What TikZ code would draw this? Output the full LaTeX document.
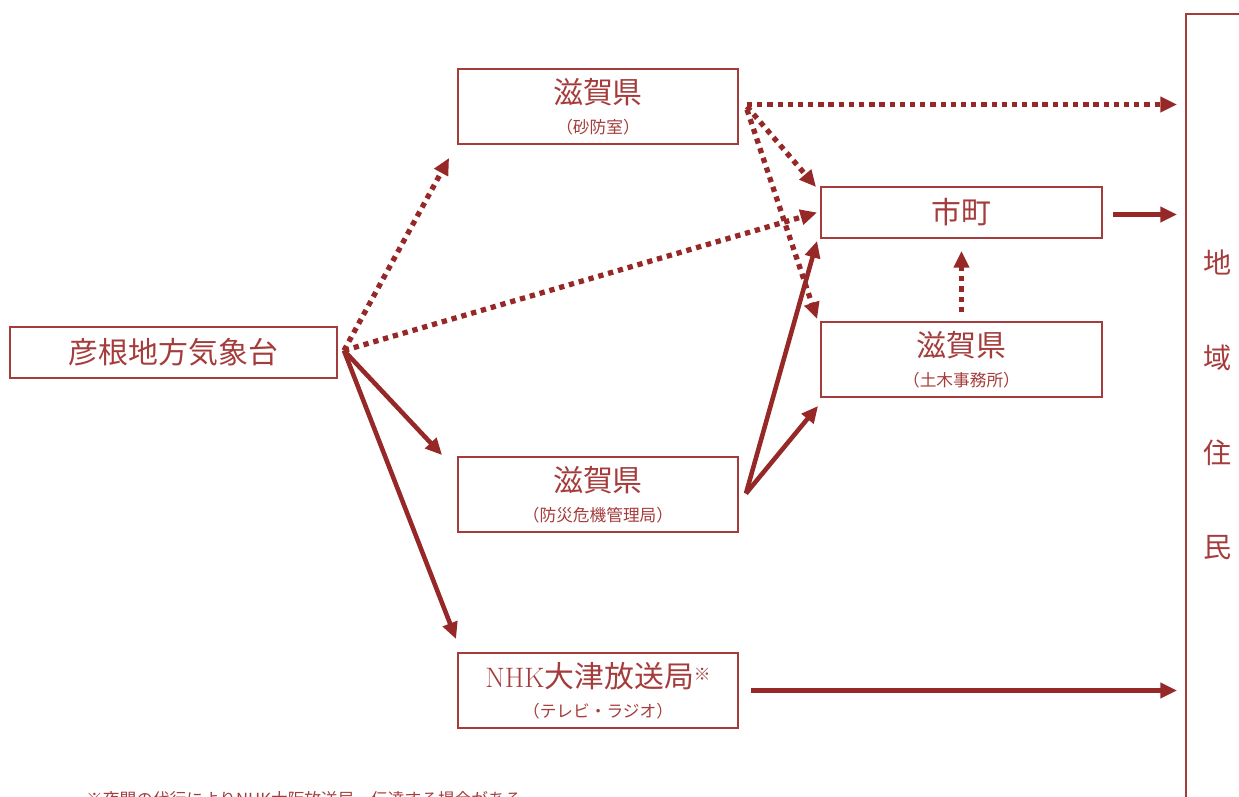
\documentclass[tikz,border=0pt]{standalone}
\usepackage{fontspec}
\newfontfamily\jp{Noto Sans CJK JP}
\usetikzlibrary{arrows.meta, calc}
\definecolor{dred}{RGB}{150,40,40}
\definecolor{bred}{RGB}{165,60,60}
\newcommand{\bigjp}{\fontsize{17pt}{20pt}\selectfont}
\newcommand{\smalljp}{\fontsize{9.5pt}{11pt}\selectfont}

\begin{document}
\begin{tikzpicture}[x=0.02cm, y=-0.02cm]
    \tikzstyle{box} = [draw=bred, line width=1.1pt, shape=rectangle, minimum width=5.6cm, minimum height=1.5cm, inner sep=0pt, align=center, text=bred, font=\jp\fontsize{10pt}{12pt}\selectfont]
    \tikzstyle{flow} = [draw=dred, line width=2.6pt, -{Triangle[length=9.5pt, width=8.5pt]}]
    \tikzstyle{notice} = [flow, line width=3pt, dash pattern=on 3pt off 2.8pt]
    \useasboundingbox (0,0) rectangle (1239,796);
    % boxes
    \node (kisho) [box, minimum width=6.54cm, minimum height=1.02cm] at (173.5, 352.5) {\bigjp 彦根地方気象台};
    \node (sabo) [box] at (598, 106.5) {\bigjp 滋賀県\\[5pt]\smalljp （砂防室）};
    \node (shicho) [box, minimum width=5.62cm, minimum height=1.02cm] at (961.5, 212.5) {\bigjp 市町};
    \node (doboku) [box, minimum width=5.62cm] at (961.5, 359.5) {\bigjp 滋賀県\\[5pt]\smalljp （土木事務所）};
    \node (bousai) [box] at (598, 494.5) {\bigjp 滋賀県\\[5pt]\smalljp （防災危機管理局）};
    \node (nhk) [box] at (598, 690.5) {\bigjp{\rmfamily\fontsize{16pt}{18pt}\selectfont NHK}大津放送局\raisebox{4pt}{\smalljp ※}\\[5pt]\smalljp （テレビ・ラジオ）};
    \node (jumin) [draw=bred, line width=1.1pt, minimum width=1.68cm, minimum height=16.32cm, inner sep=0pt] at (1228, 422) {};
    \node (jumintxt) [align=center, text=bred, font=\jp\fontsize{16pt}{53.9pt}\selectfont] at (1218, 405) {地\\域\\住\\民};
    \node (note) [anchor=west, text=bred, font=\jp\smalljp] at (80, 799) {※夜間の代行によりNHK大阪放送局、伝達する場合がある};
    % from the observatory
    \draw [notice] ($(kisho.east)+(6,-2)$) -- ($(sabo.south west)+(-8,13)$);
    \draw [notice] ($(kisho.east)+(6,-2)$) -- ($(shicho.west)+(-3,0)$);
    \draw [flow] ($(kisho.east)+(6,-2)$) -- ($(bousai.north west)+(-15,-1)$);
    \draw [flow] ($(kisho.east)+(6,-2)$) -- ($(nhk.north west)+(-1,-13)$);
    % from the prefecture
    \draw [notice] ($(sabo.east)+(8,-2)$) -- ($(sabo.east -| jumin.west)+(-8,-2)$);
    \draw [notice] ($(sabo.east)+(8,0)$) -- ($(shicho.north west)+(-4,1)$);
    \draw [notice] ($(sabo.east)+(8,3)$) -- ($(doboku.north west)+(-3,-2)$);
    \draw [flow] ($(bousai.east)+(7,-1)$) -- ($(shicho.south west)+(-3,2)$);
    \draw [flow] ($(bousai.east)+(7,-1)$) -- ($(doboku.south west)+(-2,8)$);
    % to the residents
    \draw [notice] ($(doboku.north)+(0,-9)$) -- ($(shicho.south)+(0,12)$);
    \draw [flow] ($(shicho.east)+(10,2)$) -- ($(shicho.east -| jumin.west)+(-8,2)$);
    \draw [flow] ($(nhk.east)+(12,0)$) -- ($(nhk.east -| jumin.west)+(-8,0)$);
\end{tikzpicture}
\end{document}
